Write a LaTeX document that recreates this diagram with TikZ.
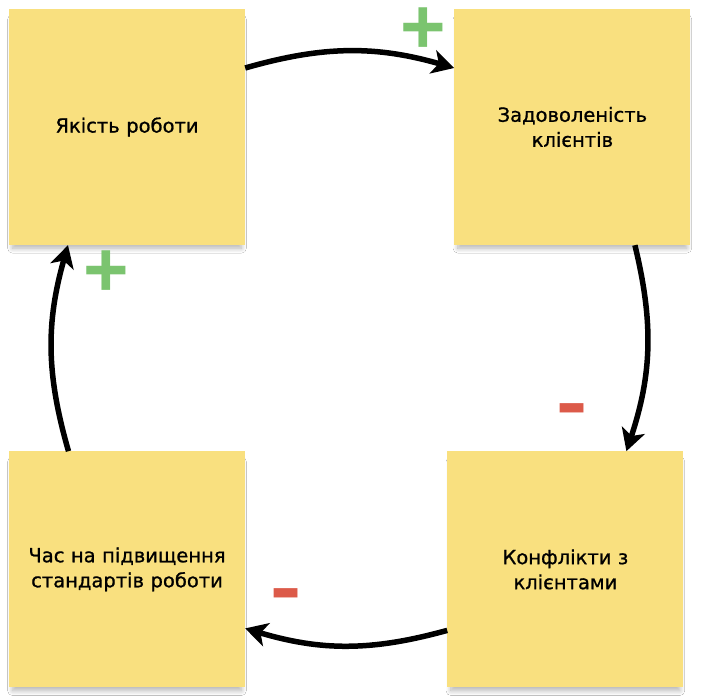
\documentclass[tikz,border=0pt]{standalone}
\usepackage{fontspec}
\setmainfont{DejaVu Sans}
\newfontfamily\notefont{DejaVu Sans}[FakeBold=0.9]
\newfontfamily\signfont{Liberation Sans}
\usetikzlibrary{arrows.meta,positioning,shadows.blur}
\definecolor{notefill}{HTML}{F9E07F}
\definecolor{notetext}{HTML}{000000}
\definecolor{plusgreen}{HTML}{7BC46F}
\definecolor{minusred}{HTML}{DC5A49}
\definecolor{arrowc}{HTML}{000000}

\begin{document}
\begin{tikzpicture}[
  x=1pt, y=1pt,
  note/.style={
    fill=notefill,
    draw=none,
    minimum width=236pt,
    minimum height=236pt,
    text width=220pt,
    align=center,
    inner sep=0pt,
    text=notetext,
    font=\notefont\fontsize{19.5}{25}\selectfont,
    blur shadow={shadow xshift=0pt, shadow yshift=-7pt, shadow scale=0.97,
      shadow blur radius=5pt, shadow blur steps=12, shadow opacity=30}
  },
  arr/.style={
    -{Stealth[length=22pt, width=24pt, inset=6pt]},
    line width=5.5pt,
    draw=arrowc,
    bend left=16
  },
  sign/.style={
    text=#1,
    inner sep=0pt,
    font=\signfont\bfseries\fontsize{78}{78}\selectfont
  }
]
\useasboundingbox[fill=white] (0,0) rectangle (706,700);

% --- Notes ---
\node[note] (quality) at (127,573) {Якість роботи};
\node[note, right=209pt of quality] (satisfaction) {Задоволеність\\клієнтів};
\node[note, below=206pt of quality] (time) {Час на підвищення\\стандартів роботи};
\node[note, right=202pt of time] (conflicts) {Конфлікти з\\клієнтами};

% --- Loop arrows ---
\draw[arr] ([yshift=59pt]quality.east) to ([yshift=59pt]satisfaction.west);
\draw[arr] ([xshift=62.5pt]satisfaction.south) to ([xshift=61pt]conflicts.north);
\draw[arr] ([yshift=-61pt]conflicts.west) to ([yshift=-59pt]time.east);
\draw[arr] ([xshift=-58.5pt]time.north) to ([xshift=-59pt]quality.south);

% --- Signs ---
\node[sign=plusgreen] (plustop) at (423.5,669) {+};
\node[sign=plusgreen] (plusleft) at (106,426) {+};
\node[sign=minusred, xscale=1.2, transform shape] (minusright) at (572,284) {-};
\node[sign=minusred, xscale=1.2, transform shape] (minusbottom) at (286,99) {-};

\end{tikzpicture}
\end{document}
